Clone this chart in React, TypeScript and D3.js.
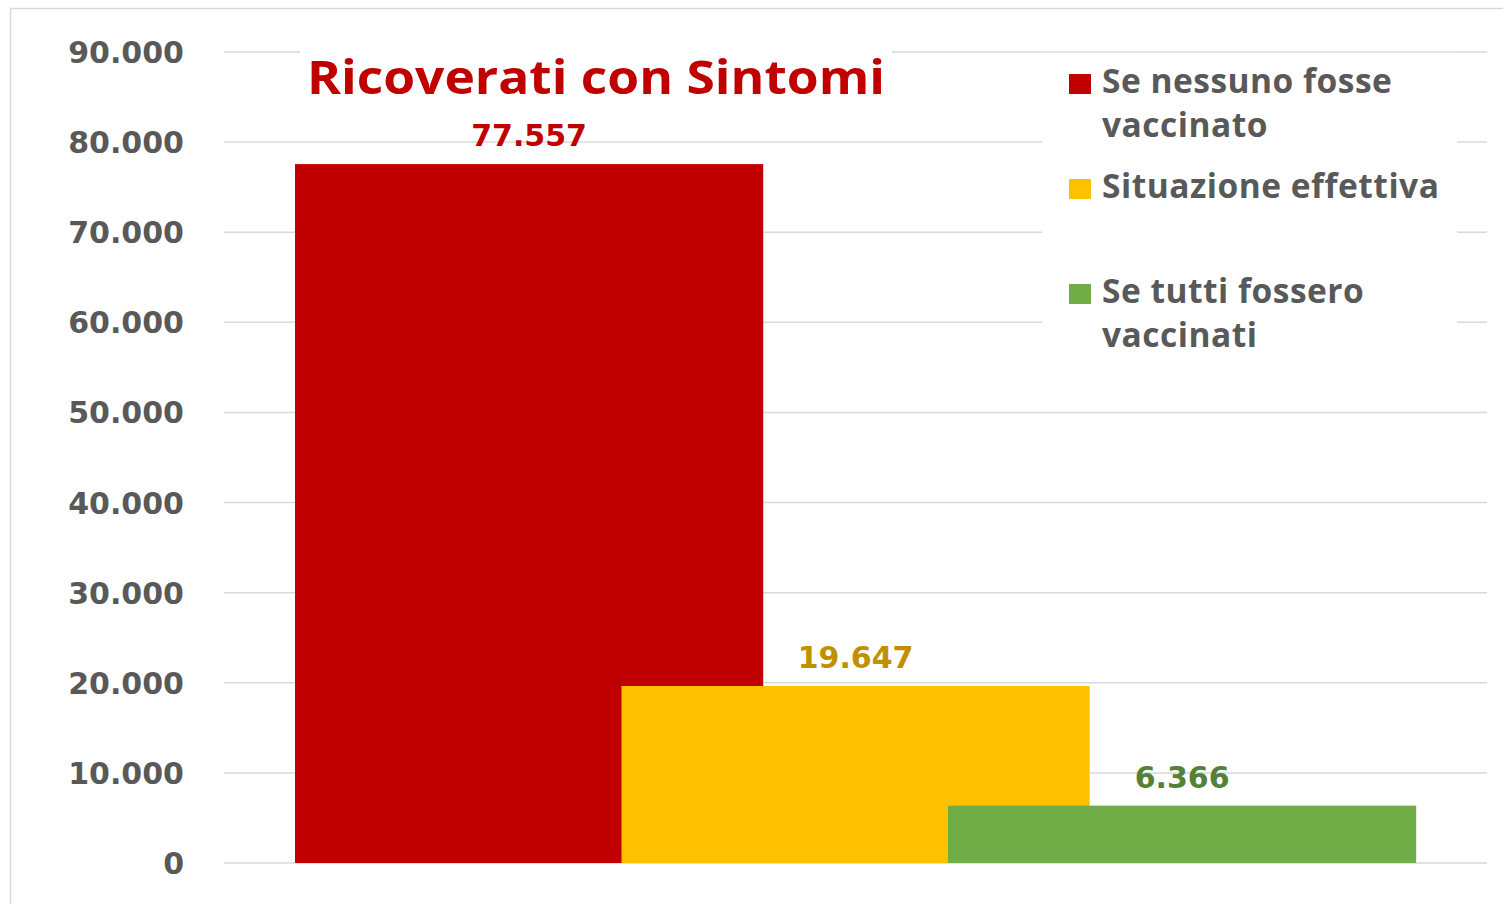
import React, { useEffect, useRef } from "react";
import * as d3 from "d3";

// Chart data
const series = ["Se nessuno fosse vaccinato", "Situazione effettiva", "Se tutti fossero vaccinati"];
const values = [77557, 19647, 6366];
const legendLines = [["Se nessuno fosse", "vaccinato"], ["Situazione effettiva"], ["Se tutti fossero", "vaccinati"]];
const yTicks = [0, 10000, 20000, 30000, 40000, 50000, 60000, 70000, 80000, 90000];
const title = "Ricoverati con Sintomi";

const barColors = ["#c00000", "#ffc000", "#70ad47"];
const labelColors = ["#c00000", "#bf9000", "#538135"];

const W = 1503;
const H = 904;
const gray = "#595959";
const gridColor = "#d9d9d9";
const numFont = "'DejaVu Sans', Verdana, sans-serif";
const textFont = "'Open Sans', 'Noto Sans', sans-serif";

const itFormat = d3.formatLocale({ decimal: ",", thousands: ".", grouping: [3], currency: ["€", ""] }).format(",d");

export default function App() {
  const svgRef = useRef<SVGSVGElement | null>(null);

  useEffect(() => {
    const svg = d3.select(svgRef.current);
    svg.selectAll("*").remove();

    // Scales
    const y = d3.scaleLinear().domain([0, 90000]).range([863, 52]);
    const x = d3.scaleBand<string>().domain(series).range([295, 1274.5]).paddingInner(0);
    const barW = x.bandwidth() * 1.434; // bars overlap their neighbours

    // Outer frame
    svg.append("rect")
      .attr("x", 10.5).attr("y", 8.5)
      .attr("width", 1500).attr("height", 900)
      .attr("fill", "#fff")
      .attr("stroke", gridColor).attr("stroke-width", 1.5);

    // Gridlines
    svg.append("g").selectAll("line")
      .data(yTicks)
      .enter().append("line")
      .attr("x1", 224).attr("x2", 1487)
      .attr("y1", d => y(d)).attr("y2", d => y(d))
      .attr("stroke", gridColor).attr("stroke-width", 1.5);

    // Y tick labels
    svg.append("g").selectAll("text")
      .data(yTicks)
      .enter().append("text")
      .attr("x", 184)
      .attr("y", d => y(d) + 11)
      .attr("text-anchor", "end")
      .attr("font-family", numFont).attr("font-weight", "bold").attr("font-size", 30)
      .attr("fill", gray)
      .text(d => itFormat(d));

    // Bars
    svg.append("g").selectAll("rect")
      .data(values)
      .enter().append("rect")
      .attr("x", (d, i) => x(series[i])!)
      .attr("y", d => y(d))
      .attr("width", barW)
      .attr("height", d => y(0) - y(d))
      .attr("fill", (d, i) => barColors[i]);

    // Value labels
    svg.append("g").selectAll("text")
      .data(values)
      .enter().append("text")
      .attr("x", (d, i) => x(series[i])! + barW / 2)
      .attr("y", d => y(d) - 18)
      .attr("text-anchor", "middle")
      .attr("font-family", numFont).attr("font-weight", "bold").attr("font-size", 30)
      .attr("fill", (d, i) => labelColors[i])
      .text(d => itFormat(d));

    // Title
    svg.append("rect")
      .attr("x", 300).attr("y", 40).attr("width", 592).attr("height", 66)
      .attr("fill", "#fff");
    svg.append("text")
      .attr("x", 307).attr("y", 94)
      .attr("font-family", textFont).attr("font-weight", 700).attr("font-size", 46)
      .attr("textLength", 578).attr("lengthAdjust", "spacingAndGlyphs")
      .attr("fill", "#c00000")
      .text(title);

    // Legend
    svg.append("rect")
      .attr("x", 1042).attr("y", 52.8).attr("width", 415).attr("height", 318)
      .attr("fill", "#fff");

    const legend = svg.append("g").selectAll("g")
      .data(legendLines)
      .enter().append("g")
      .attr("transform", (d, i) => `translate(1069, ${93 + i * 105})`);

    legend.append("rect")
      .attr("x", 0).attr("y", -19)
      .attr("width", 22).attr("height", 20)
      .attr("fill", (d, i) => barColors[i]);

    legend.each(function (lines) {
      const g = d3.select(this);
      lines.forEach((line, j) => {
        g.append("text")
          .attr("x", 33).attr("y", j * 44)
          .attr("font-family", textFont).attr("font-weight", 700).attr("font-size", 33.5)
          .attr("letter-spacing", 0.5)
          .attr("fill", gray)
          .text(line);
      });
    });
  }, []);

  return (
    <svg
      ref={svgRef}
      width={W}
      height={H}
      style={{ position: "absolute", left: 0, top: 0, display: "block", background: "#fff" }}
    />
  );
}
